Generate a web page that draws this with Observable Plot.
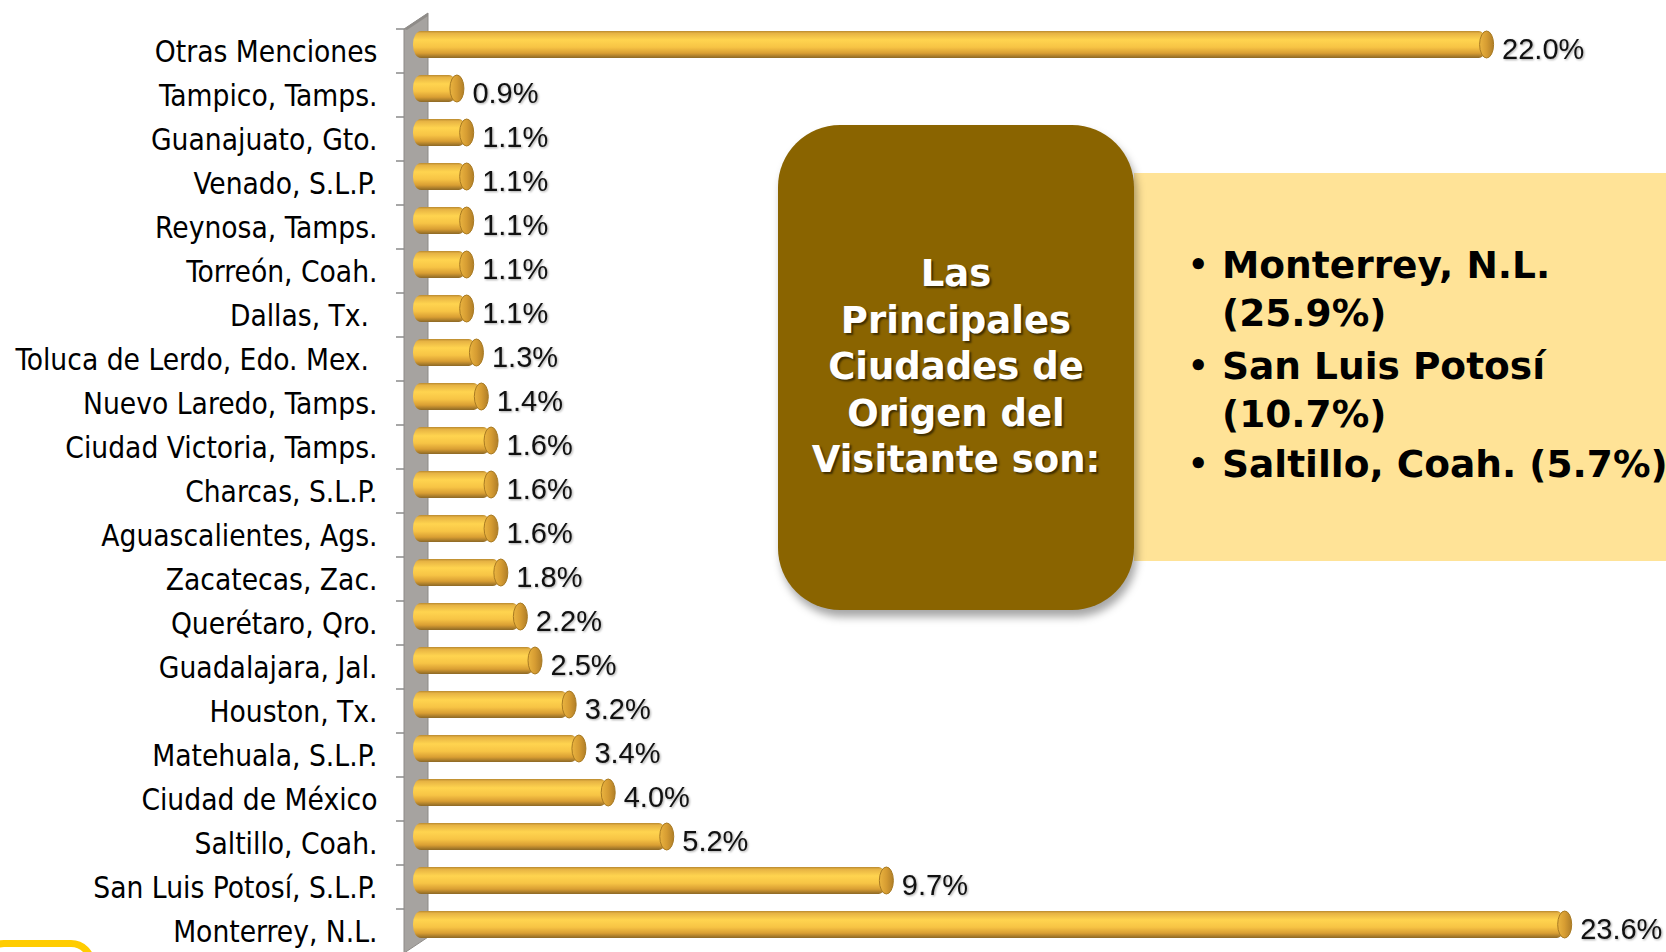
<!DOCTYPE html>
<html>
<head>
<meta charset="utf-8">
<script src="https://cdn.jsdelivr.net/npm/d3@7"></script>
<script src="https://cdn.jsdelivr.net/npm/@observablehq/plot@0.6"></script>
<style>
  html, body { margin: 0; padding: 0; background: #fff; }
  body { width: 1666px; height: 952px; overflow: hidden; position: relative; }
  #chart { position: absolute; left: 0; top: 0; }
  #chart svg { overflow: hidden; }
  .valtext text { filter: drop-shadow(1.5px 1.5px 1px rgba(0,0,0,0.35)); }
  #bigbox {
    position: absolute; left: 778px; top: 125px; width: 356px; height: 485px;
    background: #8a6400; border-radius: 62px;
    box-shadow: 3px 7px 9px rgba(0,0,0,0.35);
    display: flex; align-items: center; justify-content: center; text-align: center;
    font-family: "DejaVu Sans", Verdana, sans-serif; font-weight: bold; font-size: 37px;
    line-height: 46.5px; color: #fff; text-shadow: 2px 2px 2px rgba(0,0,0,0.55);
    z-index: 3;
  }
  #listbox {
    position: absolute; left: 1134px; top: 173px; width: 540px; height: 388px;
    background: #ffe397; z-index: 2;
    font-family: "DejaVu Sans", Verdana, sans-serif; font-weight: bold; font-size: 37.5px;
    line-height: 47.5px; color: #000; white-space: nowrap;
  }
  .item { position: absolute; left: 88px; }
  .item .bul { position: absolute; left: -34px; top: 0; font-size: 32px; }
  #corner {
    position: absolute; left: -20px; top: 940px; width: 115px; height: 60px;
    border: 7px solid #ffcc00; border-radius: 24px; box-sizing: border-box;
  }
</style>
</head>
<body>
<div id="chart"></div>
<div id="bigbox"><div>Las<br>Principales<br>Ciudades de<br>Origen del<br>Visitante son:</div></div>
<div id="listbox">
  <div class="item" style="top:69px"><span class="bul">•</span>Monterrey, N.L.<br>(25.9%)</div>
  <div class="item" style="top:170px"><span class="bul">•</span>San Luis Potosí<br>(10.7%)</div>
  <div class="item" style="top:268px"><span class="bul">•</span>Saltillo, Coah. (5.7%)</div>
</div>
<div id="corner"></div>
<script>
// ---- data (top to bottom as shown) ----
const cities = [
  "Otras Menciones",
  "Tampico, Tamps.",
  "Guanajuato, Gto.",
  "Venado, S.L.P.",
  "Reynosa, Tamps.",
  "Torreón, Coah.",
  "Dallas, Tx. ",
  "Toluca de Lerdo, Edo. Mex. ",
  "Nuevo Laredo, Tamps.",
  "Ciudad Victoria, Tamps.",
  "Charcas, S.L.P.",
  "Aguascalientes, Ags.",
  "Zacatecas, Zac.",
  "Querétaro, Qro.",
  "Guadalajara, Jal.",
  "Houston, Tx.",
  "Matehuala, S.L.P.",
  "Ciudad de México",
  "Saltillo, Coah.",
  "San Luis Potosí, S.L.P.",
  "Monterrey, N.L."
];
const percents = [22.0, 0.9, 1.1, 1.1, 1.1, 1.1, 1.1, 1.3, 1.4, 1.6, 1.6, 1.6, 1.8, 2.2, 2.5, 3.2, 3.4, 4.0, 5.2, 9.7, 23.6];

const data = cities.map((c, i) => ({city: c, value: percents[i]}));

function hasFont(name) {
  const ctx = document.createElement("canvas").getContext("2d");
  const s = "San Luis Potosí, S.L.P. mmmWWiil";
  ctx.font = "40px monospace"; const a = ctx.measureText(s).width;
  ctx.font = `40px "${name}", monospace`; const b = ctx.measureText(s).width;
  ctx.font = "40px serif"; const a2 = ctx.measureText(s).width;
  ctx.font = `40px "${name}", serif`; const b2 = ctx.measureText(s).width;
  return a !== b || a2 !== b2;
}
const condensed = hasFont("DejaVu Sans Condensed");
const labelFont = condensed ? '"DejaVu Sans Condensed", "DejaVu Sans", sans-serif' : '"DejaVu Sans", sans-serif';
const labelSize = condensed ? 29.6 : 26.5;

const x0 = 413, pxPerPct = 48.8;

const plot = Plot.plot({
  width: 1666,
  height: 952,
  marginLeft: 380, marginRight: 0, marginTop: 28, marginBottom: 0,
  x: {domain: [0, 25], range: [x0, x0 + 25 * pxPerPct], axis: null},
  y: {domain: cities, range: [28, 954], padding: 0, axis: null},
  style: {background: "transparent", overflow: "hidden"},
  marks: [
    Plot.axisY({
      anchor: "left", tickSize: 0, tickPadding: 3, label: null,
      fontSize: labelSize, fontFamily: labelFont, fill: "#000",
      tickFormat: d => d.replace(/ $/, "\u00a0"), dy: 1
    }),
    Plot.barX(data, {
      x: "value", y: "city", fill: "url(#barGrad)",
      insetTop: 2, insetBottom: 15, rx: 8, ry: 13
    }),
    Plot.barX(data, {
      x1: "value", x2: "value", y: "city", fill: "url(#capGrad)",
      stroke: "#a87a22", strokeWidth: 1,
      insetTop: 2, insetBottom: 15, insetLeft: -7, insetRight: -7, rx: 7, ry: 13.5
    }),
    Plot.text(data, {
      x: "value", y: "city", text: d => d.value.toFixed(1) + "%",
      dx: 15, dy: -2, textAnchor: "start", fontSize: 29,
      fontFamily: '"Liberation Sans", Arial, sans-serif', fill: "#111",
      className: "valtext"
    })
  ]
});

document.getElementById("chart").appendChild(plot);

// gradients
const svgSel = d3.select(plot);
const defs = svgSel.insert("defs", ":first-child");
const bg = defs.append("linearGradient").attr("id", "barGrad")
  .attr("x1", 0).attr("y1", 0).attr("x2", 0).attr("y2", 1);
[[0, "#b8892f"], [0.08, "#e6b243"], [0.33, "#ffd44f"], [0.6, "#f7c445"], [0.82, "#d99e33"], [1, "#8c6826"]]
  .forEach(([o, c]) => bg.append("stop").attr("offset", o).attr("stop-color", c));
const cg = defs.append("linearGradient").attr("id", "capGrad")
  .attr("x1", 0).attr("y1", 0).attr("x2", 1).attr("y2", 0);
[[0, "#eab440"], [0.5, "#d69c32"], [1, "#b07e28"]]
  .forEach(([o, c]) => cg.append("stop").attr("offset", o).attr("stop-color", c));

// 3D wall and category boundary ticks, positioned through Plot's scales
const xs = plot.scale("x"), ys = plot.scale("y");
const xz = xs.apply(0);
const bandStep = (ys.range[1] - ys.range[0]) / cities.length;
const wallTop = ys.apply(cities[0]);
const wallBottom = ys.apply(cities[cities.length - 1]) + bandStep;
const wall = svgSel.insert("g", "defs + *");
wall.append("polygon")
  .attr("points", [[xz - 9, wallTop], [xz + 15, wallTop - 16], [xz + 15, wallBottom - 16], [xz - 9, wallBottom]].map(p => p.join(",")).join(" "))
  .attr("fill", "#a6a3a0").attr("stroke", "#8d8a87").attr("stroke-width", 1);
wall.append("polygon")
  .attr("points", [[xz - 9, wallTop], [xz + 15, wallTop - 16], [xz + 15, wallTop - 13], [xz - 6, wallTop + 1]].map(p => p.join(",")).join(" "))
  .attr("fill", "#8f8c89");
cities.concat([null]).forEach((c) => {
  const yy = c === null ? wallBottom : ys.apply(c);
  wall.append("line").attr("x1", xz - 17).attr("x2", xz - 9)
    .attr("y1", yy).attr("y2", yy).attr("stroke", "#8a8a8a").attr("stroke-width", 1.5);
});
</script>
</body>
</html>
